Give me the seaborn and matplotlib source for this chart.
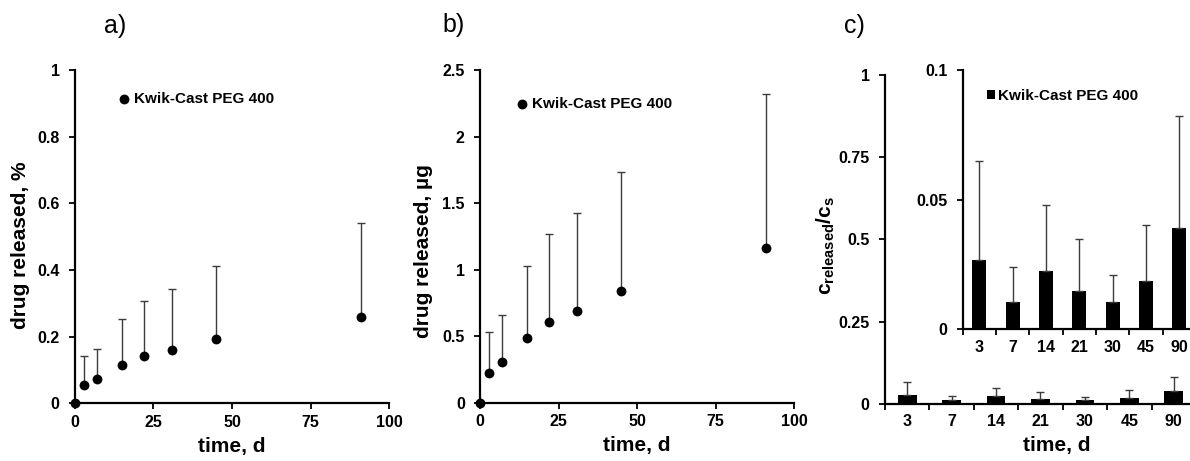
import numpy as np
import pandas as pd
import matplotlib
matplotlib.use("Agg")
import matplotlib.pyplot as plt
import seaborn as sns
from matplotlib.ticker import FixedLocator, FuncFormatter, NullFormatter

# ---------------- data ----------------
time_days = [0, 3, 7, 15, 22, 31, 45, 91]
released_pct = [0, 0.055, 0.073, 0.114, 0.141, 0.159, 0.193, 0.260]
released_pct_err = [0, 0.086, 0.090, 0.140, 0.167, 0.183, 0.218, 0.280]
released_ug = [0, 0.220, 0.306, 0.486, 0.604, 0.692, 0.843, 1.166]
released_ug_err = [0, 0.314, 0.351, 0.545, 0.662, 0.737, 0.890, 1.158]

bar_days = ["3", "7", "14", "21", "30", "45", "90"]
conc_ratio = [0.0268, 0.0104, 0.0226, 0.0149, 0.0106, 0.0187, 0.0392]
conc_ratio_err = [0.0382, 0.0136, 0.0252, 0.0198, 0.0103, 0.0217, 0.0430]

series_name = "Kwik-Cast PEG 400"
panel_labels = ["a)", "b)", "c)"]
ylabel_a = "drug released, %"
ylabel_b = "drug released, \u00b5g"
ylabel_c = r"$\mathbf{c}_{\mathbf{released}}/\mathbf{c}_{\mathbf{s}}$"
xlabel = "time, d"

# ---------------- style ----------------
sns.set_style("ticks")
plt.rcParams["font.family"] = ["Liberation Sans", "DejaVu Sans"]
plt.rcParams["font.weight"] = "bold"
plt.rcParams["mathtext.fontset"] = "custom"
plt.rcParams["mathtext.bf"] = "Liberation Sans:bold"
plt.rcParams["mathtext.rm"] = "Liberation Sans"
plt.rcParams["mathtext.it"] = "Liberation Sans:italic"
for key in ("text.color", "axes.labelcolor", "xtick.color", "ytick.color",
            "axes.edgecolor"):
    plt.rcParams[key] = "black"

TICK_FS = 11.5
LABEL_FS = 15
LEG_FS = 11
SPINE_W = 1.6
ERR_COLOR = "#3c3c3c"

fig = plt.figure(figsize=(11.9, 4.61), dpi=100)

fmt = FuncFormatter(lambda v, p: f"{v:g}")


def style_axes(ax):
    sns.despine(ax=ax)
    for s in ("left", "bottom"):
        ax.spines[s].set_linewidth(SPINE_W)
        ax.spines[s].set_color("black")
    ax.tick_params(axis="both", which="both", direction="out", length=4,
                   width=1.3, colors="black", labelsize=TICK_FS)
    ax.tick_params(axis="x", pad=4.5)
    ax.tick_params(axis="y", pad=7)
    for lab in ax.get_xticklabels() + ax.get_yticklabels():
        lab.set_fontweight("bold")
    ax.set_facecolor("white")
    ax.grid(False)


def scatter_panel(ax, y, yerr, ymax, yticks, ylabel, leg_xy, ylab_xy):
    n = len(time_days)
    ax.errorbar(time_days, y, yerr=[np.zeros(n), yerr], fmt="none",
                ecolor=ERR_COLOR, elinewidth=1.0, capsize=3, capthick=1.0,
                zorder=1, clip_on=False)
    sns.scatterplot(x=time_days, y=y, ax=ax, color="black", s=50,
                    linewidth=0, zorder=3, clip_on=False, label=series_name)
    ax.set_xlim(0, 100)
    ax.set_ylim(0, ymax)
    ax.xaxis.set_major_locator(FixedLocator([0, 25, 50, 75, 100]))
    ax.yaxis.set_major_locator(FixedLocator(yticks))
    ax.xaxis.set_major_formatter(fmt)
    ax.yaxis.set_major_formatter(fmt)
    style_axes(ax)
    ax.set_xlabel(xlabel, fontsize=LABEL_FS, fontweight="bold")
    ax.set_ylabel(ylabel, fontsize=LABEL_FS, fontweight="bold")
    ax.xaxis.set_label_coords(0.5, -0.100)
    ax.yaxis.set_label_coords(*ylab_xy)
    ax.legend(loc="center left", bbox_to_anchor=leg_xy, frameon=False,
              borderpad=0, borderaxespad=0, handlelength=0.8,
              handletextpad=0.25, prop={"size": LEG_FS, "weight": "bold"})


# ---------------- panel a ----------------
ax_a = fig.add_axes([0.0630, 0.1252, 0.2639, 0.7223])
scatter_panel(ax_a, released_pct, released_pct_err, 1.0,
              [0, 0.2, 0.4, 0.6, 0.8, 1.0], ylabel_a,
              (0.136, 0.913), (-0.143, 0.475))

# ---------------- panel b ----------------
ax_b = fig.add_axes([0.4034, 0.1265, 0.2641, 0.7210])
scatter_panel(ax_b, released_ug, released_ug_err, 2.5,
              [0, 0.5, 1.0, 1.5, 2.0, 2.5], ylabel_b,
              (0.115, 0.899), (-0.150, 0.457))


# ---------------- panel c ----------------
def bar_panel(ax, ymax, yticks):
    df = pd.DataFrame({"day": bar_days, "ratio": conc_ratio})
    sns.barplot(data=df, x="day", y="ratio", ax=ax, color="black",
                saturation=1, width=0.42, errorbar=None, linewidth=0)
    n = len(bar_days)
    ax.errorbar(np.arange(n), conc_ratio, yerr=[np.zeros(n), conc_ratio_err],
                fmt="none", ecolor=ERR_COLOR, elinewidth=1.0, capsize=3,
                capthick=1.0, zorder=3)
    ax.set_xlim(-0.5, n - 0.5)
    ax.set_ylim(0, ymax)
    ax.yaxis.set_major_locator(FixedLocator(yticks))
    ax.yaxis.set_major_formatter(fmt)
    ax.xaxis.set_minor_locator(FixedLocator(np.arange(-0.5, n, 1.0)))
    ax.xaxis.set_minor_formatter(NullFormatter())
    style_axes(ax)
    ax.tick_params(axis="x", which="major", length=0, pad=7.5)
    ax.set_xlabel("")
    ax.set_ylabel("")


ax_c = fig.add_axes([0.7437, 0.1243, 0.2613, 0.7130])
bar_panel(ax_c, 1.0, [0, 0.25, 0.5, 0.75, 1.0])
ax_c.set_xlabel(xlabel, fontsize=LABEL_FS, fontweight="bold")
ax_c.xaxis.set_label_coords((1057 - 885) / 311, -0.098)
ax_c.set_ylabel(ylabel_c, fontsize=LABEL_FS, fontweight="bold")
ax_c.yaxis.set_label_coords(-0.154, 0.48)

ax_i = fig.add_axes([0.8090, 0.2857, 0.1960, 0.5625])
bar_panel(ax_i, 0.1, [0, 0.05, 0.1])
ax_i.legend(handles=[ax_i.patches[0]], labels=[series_name],
            loc="center left", bbox_to_anchor=(0.104, 0.901), frameon=False,
            borderpad=0, borderaxespad=0, handlelength=0.5, handleheight=0.5,
            handletextpad=0.25, prop={"size": LEG_FS, "weight": "bold"})

# ---------------- panel letters ----------------
for lab, (px, py) in zip(panel_labels, [(115, 26), (454, 25), (854, 26)]):
    fig.text(px / 1190, 1 - py / 461, lab, fontsize=18, fontweight="normal",
             ha="center", va="center")

fig.savefig("out.png", dpi=100, facecolor="white")
